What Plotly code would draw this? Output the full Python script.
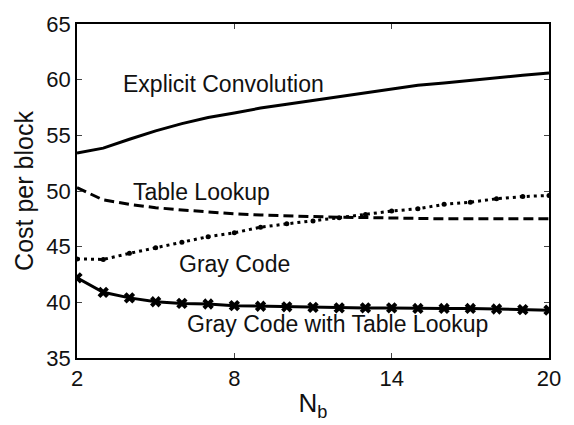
import plotly.graph_objects as go

nb = list(range(2, 21))
explicit_conv = [53.4, 53.85, 54.65, 55.4, 56.05, 56.6, 57.0, 57.45, 57.8, 58.15,
                 58.5, 58.8, 59.2, 59.5, 59.7, 59.95, 60.2, 60.4, 60.6]
table_lookup = [50.3, 49.2, 48.8, 48.5, 48.3, 48.1, 47.95, 47.85, 47.75, 47.7,
                47.65, 47.6, 47.55, 47.55, 47.5, 47.5, 47.5, 47.5, 47.5]
gray_code = [43.9, 43.85, 44.4, 44.9, 45.4, 45.9, 46.25, 46.75, 47.05, 47.3,
             47.6, 47.9, 48.2, 48.4, 48.8, 49.0, 49.3, 49.5, 49.6]
gray_table = [42.2, 40.9, 40.4, 40.05, 39.9, 39.85, 39.7, 39.65, 39.6, 39.55,
              39.5, 39.5, 39.5, 39.45, 39.45, 39.45, 39.4, 39.35, 39.3]

labels = ["Explicit Convolution", "Table Lookup", "Gray Code", "Gray Code with Table Lookup"]
label_x = [7.57, 6.76, 7.99, 11.93]
label_y = [59.6, 49.95, 43.48, 38.03]

FONT = "Arial, Liberation Sans, sans-serif"
fig = go.Figure()
fig.add_trace(go.Scatter(x=nb, y=explicit_conv, mode="lines",
                         line=dict(color="black", width=3), showlegend=False))
fig.add_trace(go.Scatter(x=nb, y=table_lookup, mode="lines",
                         line=dict(color="black", width=3, dash="10px,5px"), showlegend=False))
fig.add_trace(go.Scatter(x=nb, y=gray_code, mode="lines+markers",
                         line=dict(color="black", width=3, dash="3px,4px"),
                         marker=dict(symbol="circle", size=5, color="black"), showlegend=False))
fig.add_trace(go.Scatter(x=nb, y=gray_table, mode="lines+markers",
                         line=dict(color="black", width=3),
                         marker=dict(symbol="x", size=10, color="black"), showlegend=False))

for t, xx, yy in zip(labels, label_x, label_y):
    fig.add_annotation(x=xx, y=yy, text=t, showarrow=False,
                       font=dict(family=FONT, size=23, color="#111"))

fig.update_layout(
    width=574, height=425,
    margin=dict(l=77, r=25, t=13, b=63),
    paper_bgcolor="white", plot_bgcolor="white",
    font=dict(family=FONT, color="#111"),
)
fig.update_xaxes(range=[2, 20], tickvals=[2, 8, 14, 20], ticks="inside", ticklen=5,
                 showline=True, linecolor="black", linewidth=1.5, mirror="ticks",
                 showgrid=False, zeroline=False, tickfont=dict(size=22),
                 title=dict(text="N<sub>b</sub>", font=dict(size=26), standoff=4))
fig.update_yaxes(range=[35, 65], tickvals=[35, 40, 45, 50, 55, 60, 65], ticks="inside", ticklen=5,
                 showline=True, linecolor="black", linewidth=1.5, mirror="ticks",
                 showgrid=False, zeroline=False, tickfont=dict(size=22),
                 title=dict(text="Cost per block", font=dict(size=25), standoff=6))
fig.write_html("out.html")
